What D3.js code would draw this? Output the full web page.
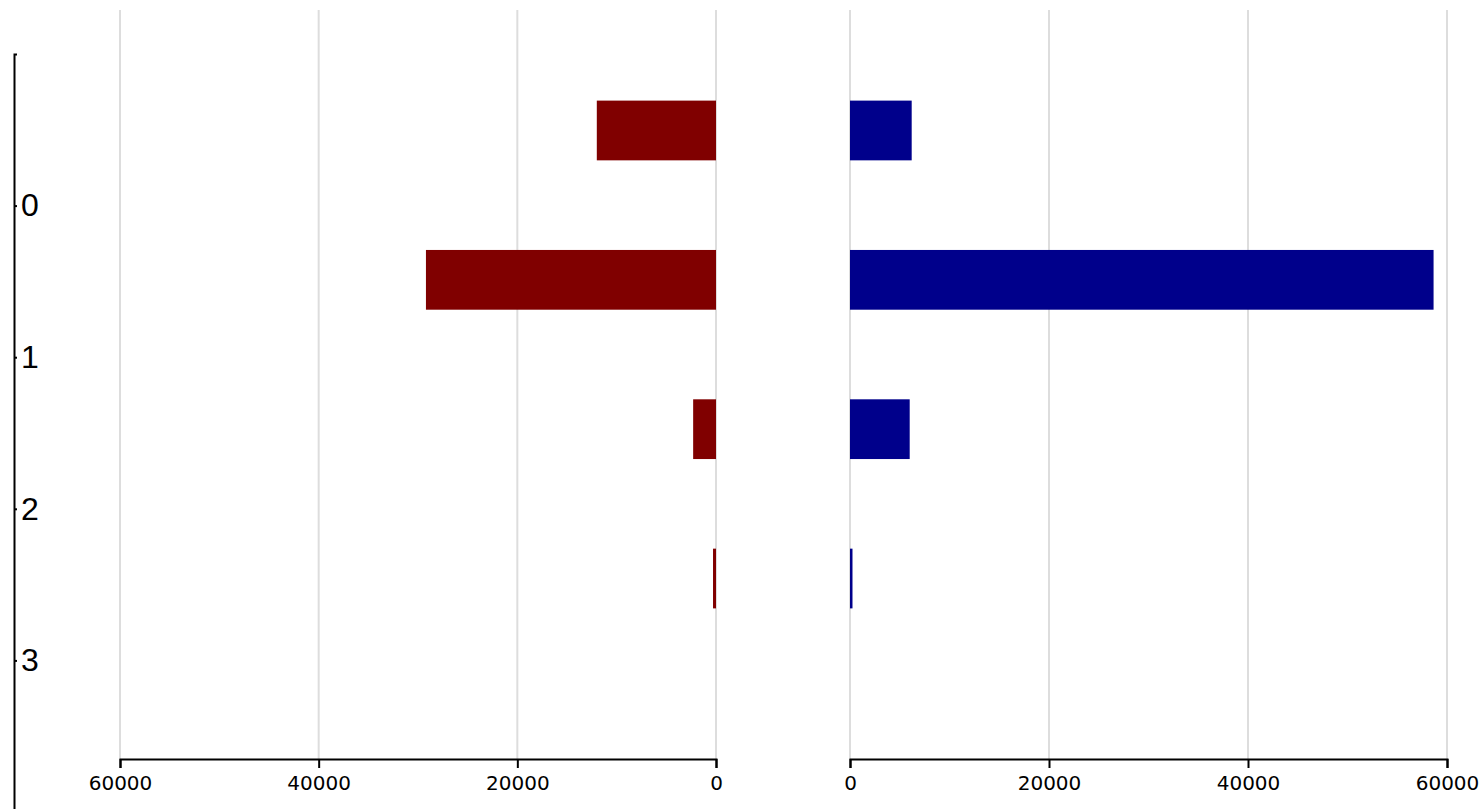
<!DOCTYPE html>
<html>
<head>
<meta charset="utf-8">
<script src="https://cdn.jsdelivr.net/npm/d3@7"></script>
<style>
  html, body { margin: 0; padding: 0; background: #fff; }
  svg { display: block; }
</style>
</head>
<body>
<svg id="chart" width="1483" height="809"></svg>
<script>
// ---- data ----
const categories = ["0", "1", "2", "3"];
const leftValues = [12000, 29200, 2300, 300];
const rightValues = [6200, 58650, 6000, 250];
const xTickValues = [0, 20000, 40000, 60000];
const xMax = 60000;

// ---- layout ----
const W = 1483, H = 809;
const gridTop = 10, axisY = 759;
const svg = d3.select("#chart");

const xLeft = d3.scaleLinear().domain([0, xMax]).range([716, 120]);
const xRight = d3.scaleLinear().domain([0, xMax]).range([850, 1447]);

const yBar = d3.scaleBand().domain(categories).range([11, 698]).padding(0.6);
const yLabel = d3.scalePoint().domain(categories).range([54, 812]).padding(1);

// gridlines
const grid = svg.append("g");
[xLeft, xRight].forEach(sc => {
  grid.selectAll(null).data(xTickValues).enter().append("line")
    .attr("x1", d => sc(d)).attr("x2", d => sc(d))
    .attr("y1", gridTop).attr("y2", axisY)
    .attr("stroke", "#dddddd").attr("stroke-width", 2);
});

// bars
svg.append("g").selectAll("rect").data(leftValues).enter().append("rect")
  .attr("x", d => xLeft(d))
  .attr("y", (d, i) => yBar(categories[i]))
  .attr("width", d => xLeft(0) - xLeft(d))
  .attr("height", yBar.bandwidth())
  .attr("fill", "#800000");

svg.append("g").selectAll("rect").data(rightValues).enter().append("rect")
  .attr("x", xRight(0))
  .attr("y", (d, i) => yBar(categories[i]))
  .attr("width", d => xRight(d) - xRight(0))
  .attr("height", yBar.bandwidth())
  .attr("fill", "#00008b");

// x axes
function styleX(g) {
  g.selectAll("path").attr("stroke", "#000").attr("stroke-width", 2);
  g.selectAll(".tick line").attr("stroke", "#000").attr("stroke-width", 2);
  g.selectAll(".tick text").attr("font-family", "'DejaVu Sans', Verdana, sans-serif")
    .attr("font-size", 20).attr("fill", "#000");
}
svg.append("g").attr("transform", `translate(0,${axisY})`)
  .call(d3.axisBottom(xLeft).tickValues(xTickValues).tickSize(9).tickPadding(8).tickFormat(d3.format("d")))
  .call(styleX);
svg.append("g").attr("transform", `translate(0,${axisY})`)
  .call(d3.axisBottom(xRight).tickValues(xTickValues).tickSize(9).tickPadding(8).tickFormat(d3.format("d")))
  .call(styleX);

// y axis
svg.append("g").attr("transform", "translate(14,0)")
  .call(d3.axisRight(yLabel).tickSize(3).tickPadding(4))
  .call(g => {
    g.selectAll("path").attr("stroke", "#000").attr("stroke-width", 2);
    g.selectAll(".tick line").attr("stroke", "#000").attr("stroke-width", 2);
    g.selectAll(".tick text").attr("font-family", "'Liberation Sans', Arial, sans-serif")
      .attr("font-size", 32).attr("fill", "#000");
  });
</script>
</body>
</html>
